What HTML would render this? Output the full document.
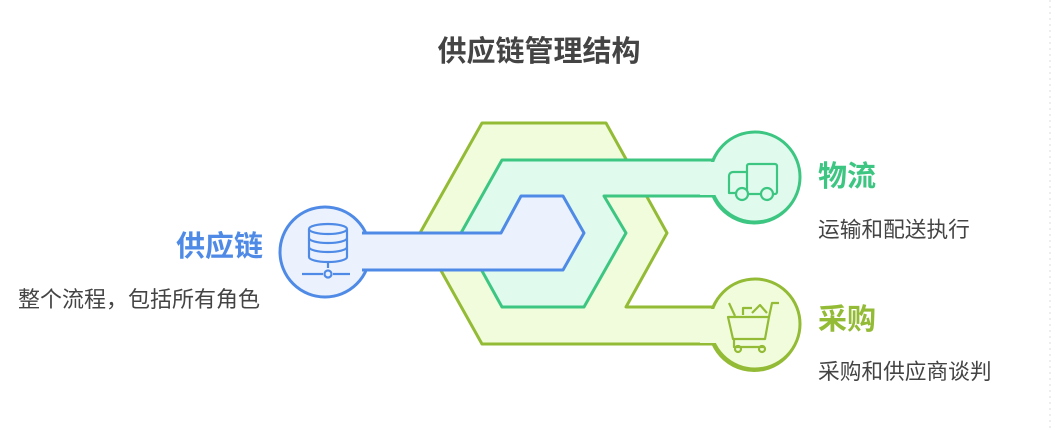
<!DOCTYPE html>
<html><head><meta charset="utf-8"><style>
html,body{margin:0;padding:0;background:#fff;}
body{width:1054px;height:430px;overflow:hidden;position:relative;font-family:"Liberation Sans","Noto Sans CJK SC",sans-serif;}
.t{position:absolute;white-space:nowrap;line-height:1;}
</style></head><body>
<svg width="1054" height="430" style="position:absolute;left:0;top:0">
<line x1="1050" y1="0" x2="1050" y2="430" stroke="#ddd" stroke-width="1" stroke-dasharray="2,4"/>
<path d="M482,123 L606,123 L667,233 L626,307 L713,307 A45,45 0 1 1 713,344 L482,344 L420,233 Z" fill="#f1fcdc" stroke="#93bb35" stroke-width="3" stroke-linejoin="round"/>
<circle cx="755" cy="324" r="45" fill="#f1fcdc" stroke="#93bb35" stroke-width="3"/>
<rect x="700" y="309" width="20" height="34" fill="#f1fcdc"/>
<path d="M502,160 L713,160 A45,45 0 1 1 713,196 L604,196 L626,233 L584,307 L502,307 L461,233 Z" fill="#e0fbee" stroke="#3dc682" stroke-width="3" stroke-linejoin="round"/>
<circle cx="755" cy="177" r="45" fill="#e0fbee" stroke="#3dc682" stroke-width="3"/>
<rect x="700" y="162" width="20" height="33" fill="#e0fbee"/>
<circle cx="325" cy="252" r="45" fill="#ebf2fd" stroke="#4f8be6" stroke-width="3"/>
<path d="M362,233 L501,233 L521,196 L563,196 L584,233 L563,270 L362,270" fill="#ebf2fd" stroke="#4f8be6" stroke-width="3" stroke-linejoin="round"/>
<rect x="355" y="235" width="15" height="33" fill="#ebf2fd"/>
<g fill="none" stroke="#4f8be6" stroke-width="2.2">
<ellipse cx="328" cy="229" rx="19" ry="5"/>
<path d="M309,229 V257 A19,5 0 0 0 347,257 V229"/>
<path d="M309,238 A19,5 0 0 0 347,238 M309,247 A19,5 0 0 0 347,247"/>
<path d="M328,262 V268 M302,274 H323 M333,274 H350"/>
<circle cx="328" cy="274" r="3.5"/>
</g>
<g fill="none" stroke="#3dc682" stroke-width="2.2" stroke-linejoin="round">
<rect x="747" y="164" width="30" height="30" rx="2"/>
<path d="M747,172 H733 A4,4 0 0 0 729,176 V193 H747"/>
<circle cx="742" cy="194" r="6" fill="#e0fbee"/>
<circle cx="767" cy="194" r="6" fill="#e0fbee"/>
</g>
<g fill="none" stroke="#93bb35" stroke-width="2.2" stroke-linejoin="round">
<path d="M728,317 H769 L765,339 H733 Z"/>
<path d="M769,317 L772,303 H779"/>
<path d="M734,339 V347 H765"/>
<circle cx="738" cy="349" r="3"/><circle cx="762" cy="349" r="3"/>
<path d="M729,303 L735,316 M743,315 V308 H752 M752,313 L760,305 L767,313"/>
</g>
</svg>
<div class="t" style="left:0;width:1078px;top:38px;text-align:center;font-size:29px;font-weight:bold;color:#444">供应链管理结构</div>
<div class="t" style="left:150px;width:113px;top:233px;text-align:right;font-size:29px;font-weight:bold;color:#4f8be6">供应链</div>
<div class="t" style="left:18px;top:289px;font-size:22px;color:#444">整个流程，包括所有角色</div>
<div class="t" style="left:818px;top:163px;font-size:29px;font-weight:bold;color:#3dc682">物流</div>
<div class="t" style="left:818px;top:219px;font-size:21.7px;color:#444">运输和配送执行</div>
<div class="t" style="left:818px;top:306px;font-size:29px;font-weight:bold;color:#93bb35">采购</div>
<div class="t" style="left:818px;top:361px;font-size:21.7px;color:#444">采购和供应商谈判</div>
</body></html>
